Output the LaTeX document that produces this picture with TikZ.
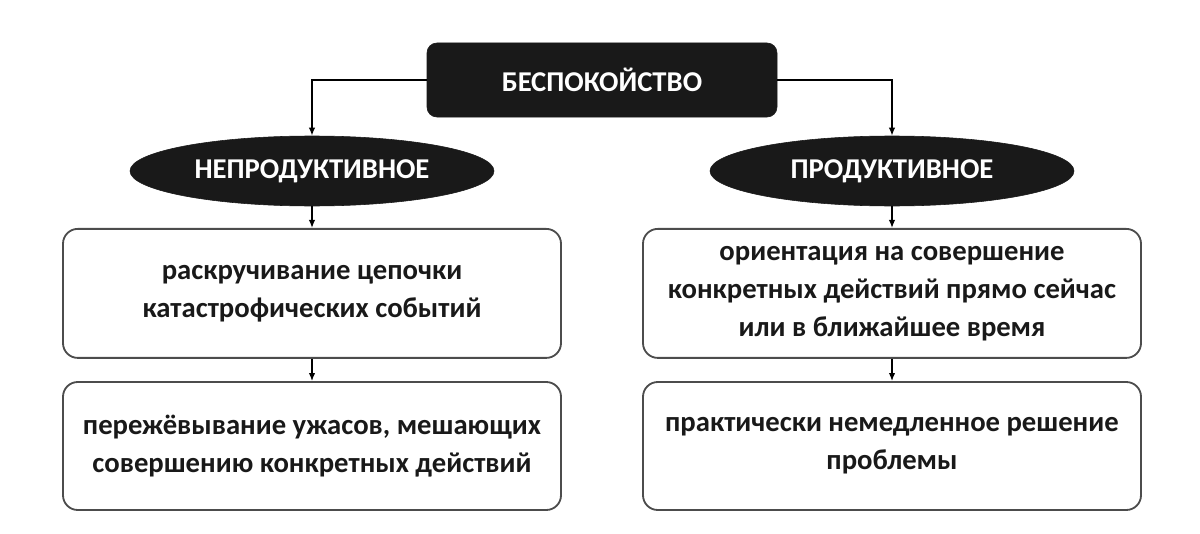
\documentclass[tikz,border=0pt]{standalone}
\usepackage{fontspec}
\setmainfont{Carlito}
\usepackage{xcolor}
\usepackage{tikz}
\usetikzlibrary{shapes.geometric,positioning,calc,arrows.meta}

\begin{document}
\begin{tikzpicture}[font=\fontsize{20.4}{27}\selectfont\bfseries,
 b/.style={draw=black!70,line width=1.3pt,rounded corners=10.5pt,align=center,inner sep=3pt},
 ttl/.style={draw=black!90,fill=black!90,text=white,rounded corners=7pt,minimum width=87.5mm,minimum height=18.5mm},
 kind/.style={ellipse,draw=black!90,fill=black!90,text=white,minimum width=91mm,minimum height=17.5mm,inner sep=0pt},
 item/.style={b,text=black!90,minimum width=124.5mm,minimum height=32mm},
 ar/.style={-{Latex[length=2mm,width=1.6mm]},line width=1pt}]
\useasboundingbox (0,0) rectangle (30,13.325);
\node[ttl] (anx) at (15.05,11.325) {БЕСПОКОЙСТВО};
\node[kind] (unprod) at (7.8,9.05) {НЕПРОДУКТИВНОЕ};
\node[kind] (prod) at (22.3,9.05) {ПРОДУКТИВНОЕ};
\node[item,minimum height=32.25mm] (u1) at (7.8,5.99)
 {раскручивание цепочки\\ катастрофических событий};
\node[item] (u2) at (7.8,2.175)
 {пережёвывание ужасов, мешающих\\ совершению конкретных действий};
\node[item,minimum height=32.25mm] (p1) at (22.3,5.99)
 {ориентация на совершение\\ конкретных действий прямо сейчас\\ или в ближайшее время};
\node[item] (p2) at (22.3,2.175)
 {практически немедленное решение\\ проблемы};
\draw[ar] (anx.west) -| (unprod.north);
\draw[ar] (anx.east) -| (prod.north);
\draw[ar] (unprod) -- (u1); \draw[ar] (u1) -- (u2);
\draw[ar] (prod) -- (p1); \draw[ar] (p1) -- (p2);
\end{tikzpicture}
\end{document}
